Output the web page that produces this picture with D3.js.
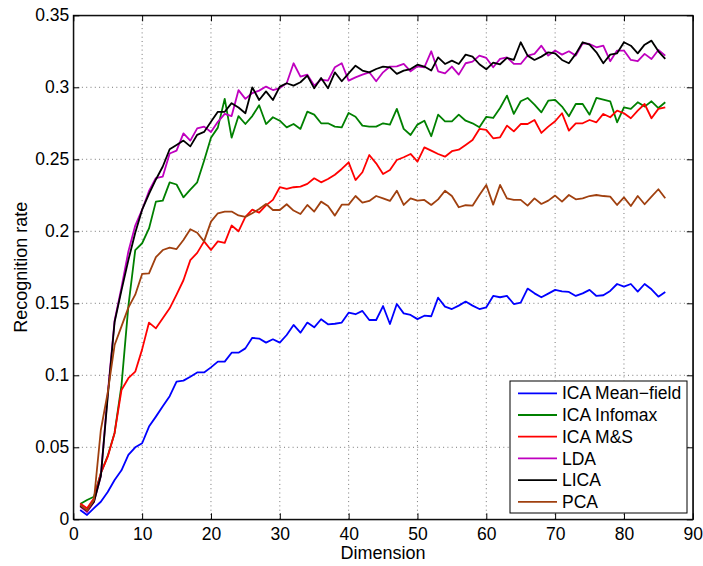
<!DOCTYPE html>
<html>
<head>
<meta charset="utf-8">
<script src="https://cdn.jsdelivr.net/npm/d3@7"></script>
<style>
  html, body { margin: 0; padding: 0; background: #fff; }
  svg { display: block; font-family: "Liberation Sans", Arial, Helvetica, sans-serif; }
</style>
</head>
<body>
<svg id="chart" width="703" height="566"></svg>
<script>
// Recognition rate versus subspace dimension, one series per method
const dimensions = d3.range(1, 87);

const icaMeanField = [0.0065,0.003,0.0077,0.0122,0.019,0.0273,0.034,0.0447,0.050,0.0528,
  0.0644,0.0713,0.0785,0.0855,0.0956,0.0963,0.099,0.102,0.102,0.1055,
  0.1095,0.1095,0.1157,0.1157,0.1187,0.126,0.1255,0.1227,0.125,0.1227,
  0.128,0.135,0.1296,0.1366,0.1333,0.1389,0.1354,0.1358,0.1366,0.1435,
  0.1424,0.1447,0.1384,0.1384,0.1481,0.1356,0.1495,0.143,0.1419,0.139,
  0.1414,0.141,0.1539,0.1477,0.146,0.1484,0.1512,0.1484,0.146,0.1472,
  0.1551,0.1542,0.1551,0.1495,0.1505,0.1602,0.1569,0.1542,0.1567,0.1593,
  0.1583,0.1579,0.1551,0.1569,0.1593,0.1551,0.1556,0.1586,0.1634,0.1616,
  0.1634,0.1581,0.1634,0.1597,0.1546,0.1579];

const icaInfomax = [0.0106,0.0134,0.0157,0.032,0.044,0.06,0.093,0.148,0.187,0.1917,
  0.202,0.2206,0.2213,0.234,0.2325,0.2236,0.229,0.234,0.249,0.265,
  0.272,0.292,0.265,0.28,0.2745,0.28,0.2875,0.2745,0.2792,0.2768,
  0.2722,0.2745,0.2711,0.2831,0.281,0.275,0.275,0.2727,0.2722,0.2822,
  0.2796,0.2734,0.2727,0.2727,0.275,0.2741,0.285,0.2711,0.2669,0.2741,
  0.2768,0.266,0.281,0.2764,0.2764,0.281,0.2768,0.275,0.2722,0.2795,
  0.2787,0.2856,0.2942,0.2815,0.2903,0.2926,0.288,0.2826,0.2907,0.2912,
  0.2866,0.2799,0.2884,0.2884,0.281,0.2926,0.2914,0.2903,0.2757,0.2861,
  0.285,0.2896,0.2866,0.2903,0.2856,0.2896];

const icaMS = [0.011,0.0077,0.0146,0.032,0.0435,0.06,0.0898,0.098,0.1025,0.118,
  0.1366,0.1326,0.1396,0.1465,0.156,0.166,0.18,0.185,0.193,0.187,
  0.193,0.192,0.204,0.2,0.21,0.215,0.213,0.218,0.2218,0.2306,
  0.2294,0.2306,0.231,0.2329,0.2368,0.234,0.2363,0.2393,0.2433,0.2479,
  0.2356,0.241,0.253,0.2472,0.2398,0.2426,0.2495,0.2514,0.2537,0.2484,
  0.2583,0.256,0.2537,0.2518,0.2556,0.2567,0.26,0.2634,0.2711,0.2704,
  0.2646,0.2653,0.2734,0.2694,0.2745,0.2745,0.2773,0.2683,0.2727,0.2764,
  0.282,0.2699,0.275,0.275,0.2773,0.2757,0.2815,0.2792,0.2838,0.282,
  0.2785,0.2838,0.2884,0.2785,0.285,0.2861];

const lda = [0.009,0.005,0.012,0.03,0.087,0.138,0.161,0.186,0.204,0.215,
  0.228,0.237,0.238,0.254,0.256,0.268,0.263,0.2715,0.2727,0.269,
  0.276,0.2815,0.280,0.298,0.292,0.296,0.2977,0.3005,0.2981,0.2995,
  0.3028,0.3167,0.3074,0.3088,0.3012,0.3053,0.3046,0.3139,0.3167,0.3046,
  0.3069,0.3088,0.3104,0.3042,0.3104,0.3144,0.3146,0.3162,0.3111,0.3146,
  0.3139,0.325,0.3111,0.3097,0.3144,0.3088,0.3167,0.3178,0.322,0.3204,
  0.3139,0.3197,0.3208,0.3162,0.3162,0.322,0.3232,0.3289,0.322,0.3255,
  0.3227,0.325,0.322,0.3306,0.3301,0.3278,0.3289,0.3181,0.3255,0.3255,
  0.319,0.3181,0.3232,0.3197,0.3259,0.322];

const lica = [0.0093,0.006,0.0122,0.03,0.085,0.137,0.159,0.18,0.199,0.215,
  0.226,0.236,0.245,0.257,0.26,0.263,0.259,0.267,0.269,0.276,
  0.283,0.283,0.289,0.286,0.282,0.300,0.2912,0.2972,0.2912,0.3005,
  0.3028,0.3012,0.3035,0.3081,0.2993,0.3065,0.2993,0.3104,0.3042,0.3097,
  0.315,0.3116,0.3104,0.3127,0.3144,0.3139,0.3093,0.3116,0.3127,0.3157,
  0.3144,0.3116,0.3208,0.3162,0.3185,0.3162,0.3227,0.3213,0.316,0.3125,
  0.3172,0.316,0.3204,0.319,0.3313,0.322,0.319,0.3213,0.3243,0.3236,
  0.319,0.3167,0.3232,0.3313,0.3296,0.3243,0.3167,0.3227,0.3236,0.3313,
  0.3289,0.3236,0.3296,0.3324,0.325,0.3197];

const pca = [0.0099,0.006,0.0134,0.062,0.088,0.121,0.134,0.147,0.156,0.1704,
  0.1708,0.182,0.187,0.1887,0.1877,0.194,0.2014,0.199,0.193,0.2067,
  0.2125,0.2137,0.2137,0.211,0.210,0.2125,0.2155,0.219,0.2148,0.2148,
  0.2188,0.2144,0.212,0.2183,0.2137,0.2206,0.2176,0.2109,0.2185,0.2185,
  0.2245,0.2199,0.2211,0.2245,0.2229,0.2211,0.2282,0.2183,0.2229,0.2213,
  0.2218,0.2183,0.2222,0.2282,0.2245,0.2167,0.2181,0.2178,0.2252,0.2322,
  0.2185,0.2322,0.2229,0.2218,0.2218,0.2178,0.2229,0.219,0.2213,0.2248,
  0.2206,0.2252,0.2222,0.2229,0.2245,0.2252,0.2245,0.2241,0.2183,0.2236,
  0.2176,0.2245,0.2188,0.2241,0.2292,0.2229];

const seriesNames = ["ICA Mean\u2212field", "ICA Infomax", "ICA M&S", "LDA", "LICA", "PCA"];
const seriesColors = ["#0000ff", "#008000", "#ff0000", "#bf00bf", "#000000", "#a0400f"];
const seriesValues = [icaMeanField, icaInfomax, icaMS, lda, lica, pca];

const xTicks = [0, 10, 20, 30, 40, 50, 60, 70, 80, 90];
const yTicks = [0, 0.05, 0.1, 0.15, 0.2, 0.25, 0.3, 0.35];
const yTickLabels = ["0", "0.05", "0.1", "0.15", "0.2", "0.25", "0.3", "0.35"];

const plot = { left: 73.3, right: 692.8, top: 15.3, bottom: 519.3 };
const svg = d3.select("#chart");

const x = d3.scaleLinear().domain([0, 90]).range([plot.left, plot.right]);
const y = d3.scaleLinear().domain([0, 0.35]).range([plot.bottom, plot.top]);

// dotted grid
const grid = svg.append("g")
  .attr("stroke", "#555")
  .attr("stroke-width", 0.8)
  .attr("stroke-dasharray", "1 3.3");
grid.selectAll("line.gx").data(xTicks.slice(1, -1)).join("line")
  .attr("x1", d => x(d)).attr("x2", d => x(d))
  .attr("y1", plot.bottom).attr("y2", plot.top);
grid.selectAll("line.gy").data(yTicks.slice(1, -1)).join("line")
  .attr("x1", plot.left).attr("x2", plot.right)
  .attr("y1", d => y(d)).attr("y2", d => y(d));

// series
const line = d3.line().x((d, i) => x(dimensions[i])).y(d => y(d));
svg.append("g").selectAll("path").data(seriesValues).join("path")
  .attr("d", d => line(d))
  .attr("fill", "none")
  .attr("stroke", (d, i) => seriesColors[i])
  .attr("stroke-width", 1.8)
  .attr("stroke-linejoin", "round");

// axes with inward ticks on all four sides
const fontSize = 17.5;
const bottomAxis = d3.axisBottom(x).tickValues(xTicks).tickFormat(d3.format("d"))
  .tickSizeInner(-6).tickSizeOuter(0).tickPadding(8.3);
const leftAxis = d3.axisLeft(y).tickValues(yTicks).tickFormat((d, i) => yTickLabels[i])
  .tickSizeInner(-6).tickSizeOuter(0).tickPadding(4);
const topAxis = d3.axisTop(x).tickValues(xTicks).tickFormat("").tickSizeInner(-6).tickSizeOuter(0);
const rightAxis = d3.axisRight(y).tickValues(yTicks).tickFormat("").tickSizeInner(-6).tickSizeOuter(0);

function styleAxis(g) {
  g.attr("font-family", null).attr("font-size", null);
  g.selectAll("text").attr("fill", "#000").style("font-size", fontSize + "px");
  g.selectAll("line, path").attr("stroke", "#000");
}
svg.append("g").attr("transform", `translate(0,${plot.bottom})`).call(bottomAxis).call(styleAxis);
svg.append("g").attr("transform", `translate(${plot.left},0)`).call(leftAxis).call(styleAxis);
svg.append("g").attr("transform", `translate(0,${plot.top})`).call(topAxis).call(styleAxis);
svg.append("g").attr("transform", `translate(${plot.right},0)`).call(rightAxis).call(styleAxis);

svg.append("rect")
  .attr("x", plot.left).attr("y", plot.top)
  .attr("width", plot.right - plot.left).attr("height", plot.bottom - plot.top)
  .attr("fill", "none").attr("stroke", "#000").attr("stroke-width", 1);

// axis titles
svg.append("text")
  .attr("x", (plot.left + plot.right) / 2).attr("y", 559)
  .attr("text-anchor", "middle").style("font-size", "18px")
  .text("Dimension");
svg.append("text")
  .attr("transform", `translate(27,${(plot.top + plot.bottom) / 2}) rotate(-90)`)
  .attr("text-anchor", "middle").style("font-size", "18px")
  .text("Recognition rate");

// legend
const legend = svg.append("g");
legend.append("rect")
  .attr("x", 510).attr("y", 381).attr("width", 177).attr("height", 132)
  .attr("fill", "#fff").attr("stroke", "#000").attr("stroke-width", 1);
const rows = legend.selectAll("g.row").data(seriesNames).join("g")
  .attr("transform", (d, i) => `translate(0,${393.3 + i * 21.7})`);
rows.append("line")
  .attr("x1", 518).attr("x2", 557).attr("y1", 0).attr("y2", 0)
  .attr("stroke", (d, i) => seriesColors[i]).attr("stroke-width", 1.8);
rows.append("text")
  .attr("x", 562).attr("y", 0).attr("dy", "0.35em")
  .style("font-size", fontSize + "px")
  .text(d => d);
</script>
</body>
</html>
